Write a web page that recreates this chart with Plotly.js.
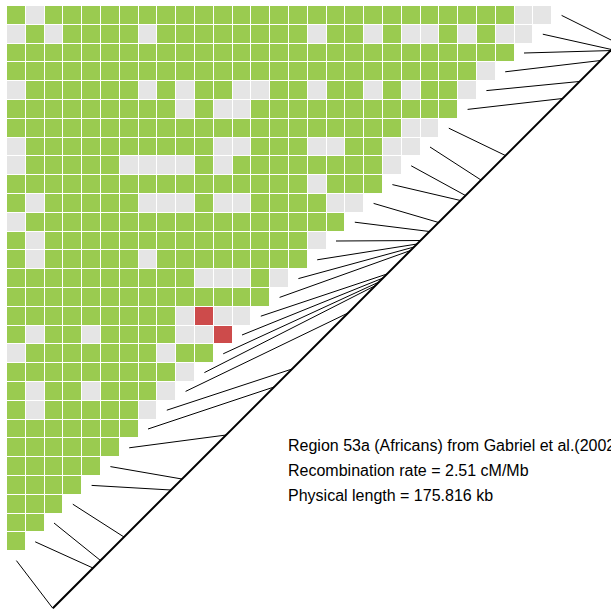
<!DOCTYPE html>
<html>
<head>
<meta charset="utf-8">
<script src="https://cdn.plot.ly/plotly-3.0.1.min.js"></script>
<style>
  html, body { margin: 0; padding: 0; background: #fff; }
  #chart { width: 611px; height: 610px; }
</style>
</head>
<body>
<div id="chart"></div>
<script>
// ---- DATA ----
// SNP physical positions (kb), from the first SNP (bottom-left) to the last (top-right)
const snpPositionsKb = [0, 12.52, 14.86, 22.17, 36.80, 40.22, 53.91, 68.86, 74.45, 91.89,
  100.43, 101.54, 102.77, 104.03, 111.34, 112.42, 113.36, 114.44, 117.25, 120.06,
  126.90, 128.45, 133.28, 140.89, 158.64, 163.94, 170.46, 173.56, 173.89, 175.816];
const physicalLengthKb = 175.816;
const recombinationRate = 2.51;

// LD block class per cell, top row first: 0 = no strong LD (grey), 1 = strong LD (green), 2 = recombination (red)
const ldClass = [
  [1,0,1,1,1,1,1,1,1,1,1,1,1,1,1,1,1,1,1,1,1,1,1,1,1,1,1,0,0],
  [0,1,0,1,1,1,1,0,1,1,1,1,1,1,1,1,0,1,1,0,1,0,0,1,0,1,0,0],
  [1,1,1,1,1,1,1,1,1,1,1,1,1,1,1,1,1,1,1,1,1,1,1,1,1,1,1],
  [1,1,1,1,1,1,1,1,1,1,1,1,1,1,1,1,1,1,1,1,1,1,1,1,1,0],
  [0,1,1,1,1,1,1,0,1,0,1,1,0,0,1,1,0,1,1,0,1,0,1,1,0],
  [1,1,1,1,1,1,1,1,1,0,1,0,0,1,1,1,1,1,1,1,1,1,1,1],
  [1,1,1,1,1,1,1,1,1,1,1,1,1,1,1,1,1,1,1,1,1,0,0],
  [0,1,1,1,1,1,1,1,1,1,1,0,0,1,1,1,0,0,1,1,0,0],
  [0,1,1,1,1,1,0,0,0,0,1,0,1,1,1,1,1,1,1,1,0],
  [1,1,1,1,1,1,1,1,1,1,1,1,1,1,1,1,0,1,1,1],
  [1,0,1,1,1,1,1,0,0,0,1,0,0,1,1,1,1,0,0],
  [0,1,1,1,1,1,1,1,1,1,1,1,1,1,1,1,1,1],
  [1,0,1,1,1,1,1,1,1,1,1,1,1,1,1,1,0],
  [1,0,1,1,1,1,1,0,1,1,1,1,1,1,1,1],
  [1,1,1,1,1,1,1,1,1,1,0,0,0,1,0],
  [1,1,1,1,1,1,1,1,1,1,1,1,1,1],
  [1,1,1,1,1,1,1,1,1,0,2,0,0],
  [1,0,1,1,0,1,1,1,1,0,0,2],
  [0,1,1,1,1,1,1,1,0,1,1],
  [1,1,1,1,1,1,1,1,1,0],
  [1,0,1,1,0,1,1,1,0],
  [1,0,1,1,1,1,1,0],
  [1,1,1,1,1,1,1],
  [1,1,1,1,1,1],
  [1,1,1,1,1],
  [1,1,1,1],
  [1,1,1],
  [1,1],
  [1]
];
const classColors = ['#e5e5e5', '#9acb50', '#cd4b4b'];
const infoLines = [
  'Region 53a (Africans) from Gabriel et al.(2002)',
  'Recombination rate = ' + recombinationRate.toFixed(2) + ' cM/Mb',
  'Physical length = ' + physicalLengthKb.toFixed(3) + ' kb'
];

// ---- GEOMETRY (cell units) ----
const nSnp = snpPositionsKb.length;
const nRows = ldClass.length;
const diagOffset = 34.47;   // x + y of the physical-position axis
const vMin = -29.6, vMax = 30.5; // extent along the axis (x - y)
const startGap = 0.5;

// Heatmap
const z = [];
for (let i = 0; i < nRows; i++) {
  const row = [];
  for (let j = 0; j < nRows; j++) row.push(j < ldClass[i].length ? ldClass[i][j] : null);
  z.push(row);
}
const centers = Array.from({length: nRows}, (_, k) => k + 0.5);

// Connector lines
const lx = [], ly = [];
for (let i = 0; i < nSnp; i++) {
  const pos = snpPositionsKb[nSnp - 1 - i];
  const v = vMin + (pos / physicalLengthKb) * (vMax - vMin);
  const nCells = nRows - i;
  lx.push(nCells + startGap, (diagOffset + v) / 2, null);
  ly.push(i + 0.5, (diagOffset - v) / 2, null);
}
const dx = [(diagOffset + vMin) / 2, (diagOffset + vMax) / 2];
const dy = [(diagOffset - vMin) / 2, (diagOffset - vMax) / 2];

const traces = [
  {
    type: 'heatmap', z: z, x: centers, y: centers,
    zmin: 0, zmax: 2,
    colorscale: [[0, classColors[0]], [0.5, classColors[1]], [1, classColors[2]]],
    showscale: false, xgap: 1, ygap: 1, hoverinfo: 'skip'
  },
  {
    type: 'scatter', mode: 'lines', x: lx, y: ly,
    line: {color: '#000', width: 1}, hoverinfo: 'skip', connectgaps: false
  },
  {
    type: 'scatter', mode: 'lines', x: dx, y: dy,
    line: {color: '#000', width: 2}, hoverinfo: 'skip'
  }
];

const pxScale = 18.8;
const layout = {
  width: 611, height: 610,
  margin: {l: 0, r: 0, t: 0, b: 0, pad: 0},
  paper_bgcolor: '#fff', plot_bgcolor: '#fff',
  showlegend: false,
  xaxis: {range: [-7 / pxScale, 604 / pxScale], visible: false, fixedrange: true},
  yaxis: {range: [604 / pxScale, -6 / pxScale], visible: false, fixedrange: true},
  annotations: infoLines.map((t, k) => ({
    text: t, x: 14.84, y: 23.38 + k * 1.33, xref: 'x', yref: 'y',
    xanchor: 'left', yanchor: 'middle', showarrow: false,
    font: {family: 'Liberation Sans, Arial, sans-serif', size: 16, color: '#000'}
  }))
};

Plotly.newPlot('chart', traces, layout, {displayModeBar: false, staticPlot: true});
</script>
</body>
</html>
